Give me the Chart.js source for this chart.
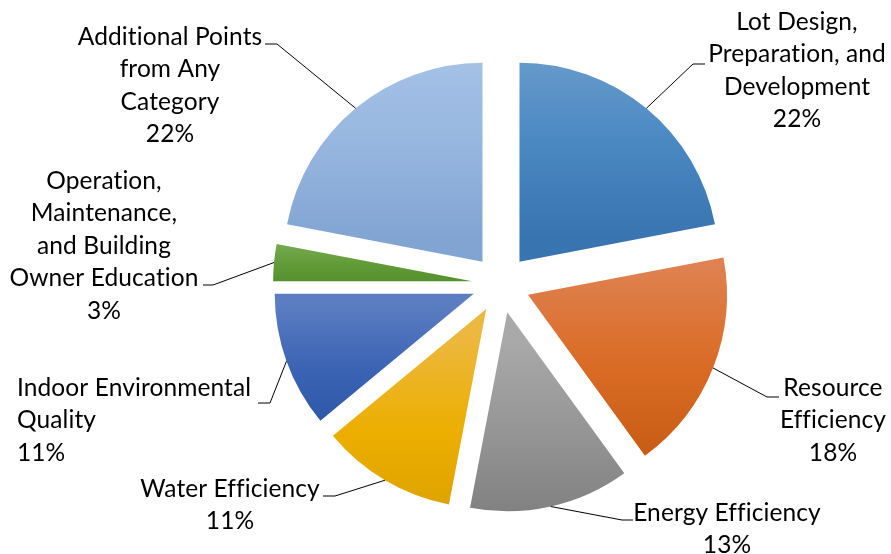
<!DOCTYPE html>
<html>
<head>
<meta charset="utf-8">
<script src="https://cdn.jsdelivr.net/npm/chart.js@4.4.0/dist/chart.umd.min.js"></script>
<style>
  html, body { margin: 0; padding: 0; background: #fff; }
  #wrap { width: 891px; height: 554px; }
</style>
</head>
<body>
<div id="wrap"><canvas id="chart" width="891" height="554"></canvas></div>
<script>
// data
const categories = [
  'Lot Design, Preparation, and Development',
  'Resource Efficiency',
  'Energy Efficiency',
  'Water Efficiency',
  'Indoor Environmental Quality',
  'Operation, Maintenance, and Building Owner Education',
  'Additional Points from Any Category'
];
const shares = [22, 18, 13, 11, 11, 3, 22];
const labelLines = [
  ['Lot Design,', 'Preparation, and', 'Development'],
  ['Resource', 'Efficiency'],
  ['Energy Efficiency'],
  ['Water Efficiency'],
  ['Indoor Environmental', 'Quality'],
  ['Operation,', 'Maintenance,', 'and Building', 'Owner Education'],
  ['Additional Points', 'from Any', 'Category']
];

// gradient colours per slice (top, middle, bottom)
const sliceColors = [
  ['#6d9ecc', '#4b89c3', '#3874b0'],
  ['#df8150', '#d96b24', '#c75b14'],
  ['#a9a9a9', '#939393', '#7a7a7a'],
  ['#ecb840', '#ecae00', '#d9a000'],
  ['#5c7dc1', '#3c64b4', '#2b55a5'],
  ['#74a94e', '#629c38', '#54902c'],
  ['#a8c4e7', '#97b7e0', '#82a4d2']
];

// label placement: text anchor, elbow of the leader line, end of the stub
const labelLayout = [
  { x: 797, y: 22, align: 'center', elbow: [693, 64], end: [705, 64] },
  { x: 833, y: 388, align: 'center', elbow: [767, 397], end: [779, 397] },
  { x: 727, y: 513, align: 'center', elbow: [622, 520], end: [633, 520] },
  { x: 230, y: 489, align: 'center', elbow: [335, 496], end: [323, 496] },
  { x: 17, y: 388, align: 'left', elbow: [270, 403], end: [258, 403] },
  { x: 104, y: 181, align: 'center', elbow: [213, 285], end: [203, 285] },
  { x: 170, y: 37, align: 'center', elbow: [277, 44], end: [265, 44] }
];

const EXPLODE = 29;     // how far each slice is pulled out, px
const RADIUS = 199;
const LINE_H = 32.4;
const FONT = '24.5px Lato, "Noto Sans", sans-serif';

const total = shares.reduce((a, b) => a + b, 0);

function fixFor(circ) {
  return 1 - Math.sin(Math.min(Math.PI, circ));
}

function sliceVertex(el) {
  const half = (el.startAngle + el.endAngle) / 2;
  return [el.x + Math.cos(half) * EXPLODE, el.y + Math.sin(half) * EXPLODE, half];
}

const slicePlugin = {
  id: 'sliceStyle',
  afterDatasetsUpdate(chart) {
    const meta = chart.getDatasetMeta(0);
    const c = chart.ctx;
    meta.data.forEach((el, i) => {
      const circ = el.endAngle - el.startAngle;
      // Chart.js grows the radius and trims the angle of narrow exploded
      // slices; undo that so every slice keeps the same radius and angle
      const grow = EXPLODE * fixFor(circ);
      el.outerRadius = RADIUS - grow;
      const trim = grow / (Math.PI * RADIUS) / 2;
      el.startAngle -= trim;
      el.endAngle += trim;

      const [vx, vy] = sliceVertex(el);
      let ymin = vy, ymax = vy;
      for (let k = 0; k <= 40; k++) {
        const a = el.startAngle + circ * k / 40;
        const y = vy + Math.sin(a) * RADIUS;
        ymin = Math.min(ymin, y);
        ymax = Math.max(ymax, y);
      }
      const g = c.createLinearGradient(0, ymin, 0, ymax);
      g.addColorStop(0, sliceColors[i][0]);
      g.addColorStop(0.5, sliceColors[i][1]);
      g.addColorStop(1, sliceColors[i][2]);
      el.options = Object.assign({}, el.options, { backgroundColor: g });
    });
  },
  afterDatasetsDraw(chart) {
    const meta = chart.getDatasetMeta(0);
    const c = chart.ctx;
    c.save();
    meta.data.forEach((el, i) => {
      const [vx, vy, half] = sliceVertex(el);
      const px = vx + Math.cos(half) * RADIUS;
      const py = vy + Math.sin(half) * RADIUS;
      const L = labelLayout[i];
      c.beginPath();
      c.moveTo(px, py);
      c.lineTo(L.elbow[0], L.elbow[1]);
      c.lineTo(L.end[0], L.end[1]);
      c.strokeStyle = '#000';
      c.lineWidth = 1;
      c.stroke();

      const lines = labelLines[i].concat([Math.round(shares[i] / total * 100) + '%']);
      c.font = FONT;
      c.letterSpacing = '0.1px';   // no "ti" ligature, like the original
      c.fillStyle = '#000';
      c.textAlign = L.align;
      c.textBaseline = 'middle';
      lines.forEach((t, k) => c.fillText(t, L.x, L.y + k * LINE_H));
    });
    c.restore();
  }
};

new Chart(document.getElementById('chart'), {
  type: 'pie',
  data: {
    labels: categories,
    datasets: [{
      data: shares,
      backgroundColor: sliceColors.map(s => s[1]),
      borderWidth: 0,
      offset: EXPLODE * 4,
      radius: RADIUS
    }]
  },
  options: {
    responsive: false,
    animation: false,
    events: [],
    radius: RADIUS,
    layout: { padding: { left: 111, right: 0, top: 14, bottom: 0 } },
    plugins: {
      legend: { display: false },
      tooltip: { enabled: false }
    }
  },
  plugins: [slicePlugin]
});
</script>
</body>
</html>
